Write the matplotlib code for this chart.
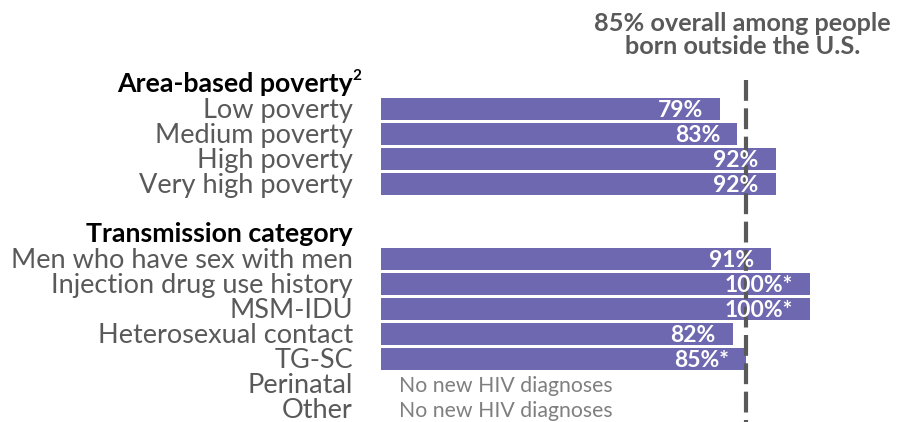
import matplotlib
matplotlib.use("Agg")
import matplotlib.pyplot as plt

# rows of the chart, top to bottom; None marks a header or spacer row
labels = ["Area-based poverty", "Low poverty", "Medium poverty", "High poverty",
          "Very high poverty", "", "Transmission category",
          "Men who have sex with men", "Injection drug use history", "MSM-IDU",
          "Heterosexual contact", "TG-SC", "Perinatal", "Other"]
values = [None, 79, 83, 92, 92, None, None, 91, 100, 100, 82, 85, None, None]
value_text = [None, "79%", "83%", "92%", "92%", None, None,
              "91%", "100%*", "100%*", "82%", "85%*", None, None]
headers = {0, 6}
no_data = {12, 13}
overall = 85
overall_text = "85% overall among people\nborn outside the U.S."

BAR = "#6E68B0"
GRAY = "#595959"
FONT = "Lato"

W, H = 903, 422
fig = plt.figure(figsize=(W / 100, H / 100), dpi=100)
# x: 0..100 percent mapped to 381..810 px; y: one unit per 25 px row
x0, x100 = 381, 810
ppu = (x100 - x0) / 100
ax = fig.add_axes([x0 / W, 0, (x100 - x0) / W, 1])
ax.set_xlim(0, 100)
ax.set_ylim((H - 84) / 25, -84 / 25)
ax.axis("off")

lab_x = (353 - x0) / ppu
for i, (lab, v, vt) in enumerate(zip(labels, values, value_text)):
    if i in headers:
        ax.text(lab_x, i + 0.02, lab, ha="right", va="center", fontsize=19.3,
                fontweight="bold", color="black", family=FONT)
        continue
    if lab:
        ax.text(lab_x, i + 0.05, lab, ha="right", va="center", fontsize=19.5,
                color=GRAY, family=FONT)
    if v is not None:
        ax.barh(i, v, height=0.9, color=BAR, edgecolor="none", zorder=1)
        ax.text(v - 17 / ppu, i + 0.05, vt, ha="right", va="center",
                fontsize=16.5, fontweight="bold", color="white", family=FONT,
                zorder=3)
    elif i in no_data:
        ax.text(18 / ppu, i + 0.08, "No new HIV diagnoses", ha="left",
                va="center", fontsize=15.3, color="#7F7F7F", family=FONT)

# footnote marker on the first header
ax.text((352 - x0) / ppu, -0.3, "2", ha="left", va="center", fontsize=11,
        fontweight="bold", color="black", family=FONT)

# overall reference line
ax.vlines(overall, (80 - 84) / 25, (H - 84) / 25, colors=GRAY, linewidth=3,
          linestyles=(0, (5, 1.8)), zorder=2)
ax.text(overall - 0.7, (35 - 84) / 25, overall_text, ha="center", va="center",
        fontsize=18.2, fontweight="bold", color=GRAY, family=FONT,
        linespacing=1.05)

fig.savefig("out.png", dpi=100)
